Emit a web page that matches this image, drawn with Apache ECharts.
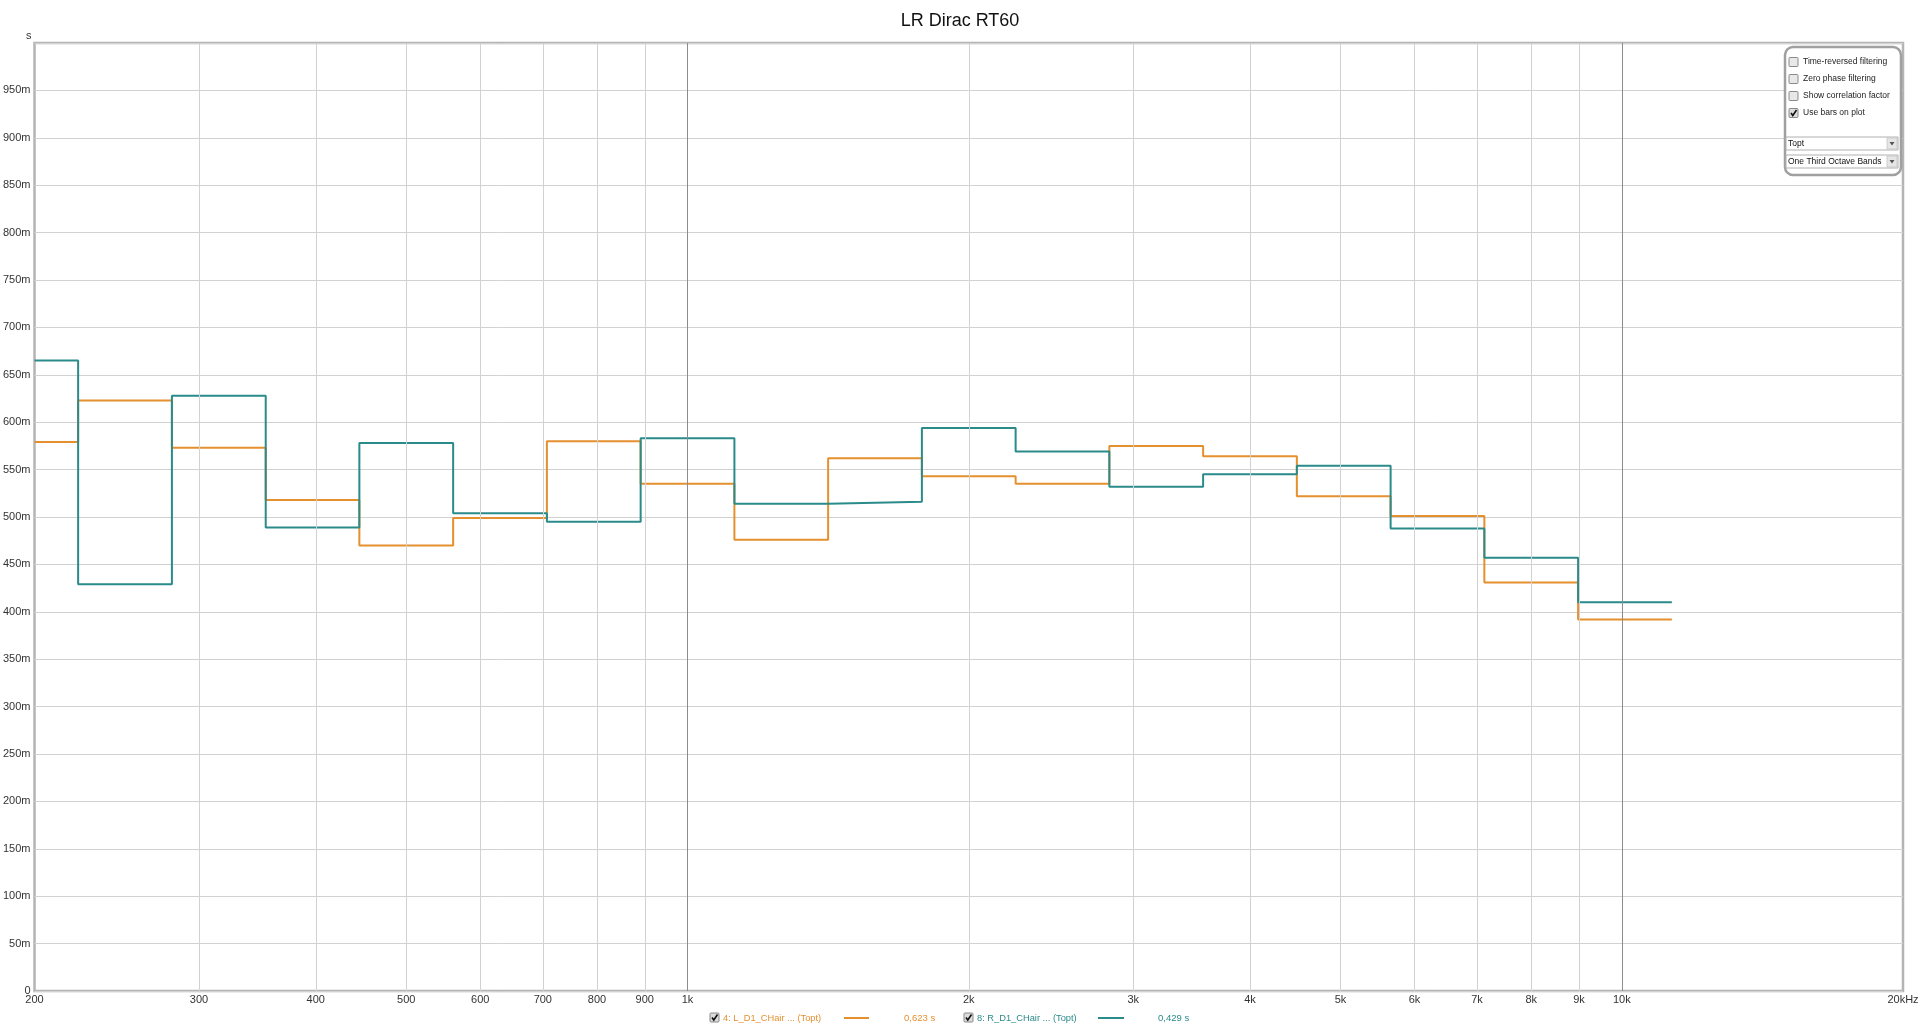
<!DOCTYPE html>
<html>
<head>
<meta charset="utf-8">
<script src="https://cdn.jsdelivr.net/npm/echarts@6/dist/echarts.min.js"></script>
<style>
html,body{margin:0;padding:0;background:#fff;}
#main{width:1920px;height:1029px;}
</style>
</head>
<body>
<div id="main"></div>
<script>
// One-third octave bands (nominal centres) and their band edges (Hz, base-2 bands)
const bandCenters = ['200','250','315','400','500','630','800','1k','1.25k','1.6k','2k','2.5k','3.15k','4k','5k','6.3k','8k','10k'];
const bandEdges = [200, 222.7, 280.6, 353.6, 445.4, 561.2, 707.1, 890.9, 1122.5, 1414.2, 1781.8, 2244.9, 2828.4, 3563.6, 4489.8, 5656.9, 7127.2, 8979.7, 11313.7];
// RT60 values in seconds (Topt)
const rt60L = [0.579, 0.623, 0.573, 0.518, 0.470, 0.499, 0.580, 0.535, 0.476, 0.562, 0.543, 0.535, 0.575, 0.564, 0.522, 0.501, 0.431, 0.392];
const rt60R = [0.665, 0.429, 0.628, 0.489, 0.578, 0.504, 0.495, 0.583, 0.514, 0.516, 0.594, 0.569, 0.532, 0.545, 0.554, 0.488, 0.457, 0.410];
// x-axis tick values and labels
const xTickValues = [200,300,400,500,600,700,800,900,1000,2000,3000,4000,5000,6000,7000,8000,9000,10000,20000];
const xTickLabels = ['200','300','400','500','600','700','800','900','1k','2k','3k','4k','5k','6k','7k','8k','9k','10k','20kHz'];
const xMajorValues = [1000, 10000];
const seriesNames = ['4: L_D1_CHair ... (Topt)', '8: R_D1_CHair ... (Topt)'];
const cursorValues = ['0,623 s', '0,429 s'];
const panelOptions = ['Time-reversed filtering','Zero phase filtering','Show correlation factor','Use bars on plot'];
const panelChecked = [false, false, false, true];
const dropdowns = ['Topt', 'One Third Octave Bands'];

const ORANGE = '#E5902F';
const TEAL = '#2B8A8A';
const FONT = 'Liberation Sans, Arial, sans-serif';

function stepData(vals) {
  const d = vals.map((v, i) => [bandEdges[i], v]);
  d.push([bandEdges[bandEdges.length - 1], vals[vals.length - 1]]);
  return d;
}

const chart = echarts.init(document.getElementById('main'));

const gridLines = xTickValues.filter(v => v > 200 && v < 20000).map(v => ({
  xAxis: v,
  lineStyle: { color: xMajorValues.includes(v) ? '#8c8c8c' : '#d2d2d2', width: 1, type: 'solid' }
}));

chart.setOption({
  animation: false,
  backgroundColor: '#fff',
  title: {
    text: 'LR Dirac RT60', left: 'center', top: 7,
    textStyle: { fontSize: 18, fontWeight: 'normal', color: '#111', fontFamily: FONT }
  },
  grid: {
    left: 33, right: 17, top: 43, bottom: 38,
    show: true, borderColor: '#b4b4b4', borderWidth: 2.5, backgroundColor: '#fff'
  },
  xAxis: {
    type: 'log', logBase: 10, min: 200, max: 20000,
    axisLine: { show: false }, axisTick: { show: false },
    axisLabel: { show: false }, splitLine: { show: false }, minorSplitLine: { show: false }
  },
  yAxis: {
    type: 'value', min: 0, max: 1, interval: 0.05,
    name: 's', nameLocation: 'end', nameGap: 2,
    nameTextStyle: { fontSize: 11, color: '#333', fontFamily: FONT, align: 'right', padding: [0, 3, 0, 0] },
    axisLine: { show: false }, axisTick: { show: false },
    axisLabel: {
      fontSize: 11, color: '#333', fontFamily: FONT, margin: 4,
      formatter: v => {
        if (v === 0) return '0';
        if (Math.abs(v - 1) < 1e-9) return '';
        return Math.round(v * 1000) + 'm';
      }
    },
    splitLine: { show: true, lineStyle: { color: '#d2d2d2', width: 1 } }
  },
  series: [
    {
      name: 'grid', type: 'line', data: [], z: 1, silent: true,
      markLine: { silent: true, symbol: ['none', 'none'], label: { show: false }, animation: false, data: gridLines }
    },
    {
      name: seriesNames[0], type: 'line', step: 'end', data: stepData(rt60L), showSymbol: false, symbol: 'none',
      lineStyle: { color: ORANGE, width: 2 }, itemStyle: { color: ORANGE }, z: 3
    },
    {
      name: seriesNames[1], type: 'line', step: 'end', data: stepData(rt60R), showSymbol: false, symbol: 'none',
      lineStyle: { color: TEAL, width: 2 }, itemStyle: { color: TEAL }, z: 4
    }
  ]
});

// Build graphics: x-axis labels (placed via axis scale), legend row, control panel
const g = [];
xTickValues.forEach((v, i) => {
  const p = chart.convertToPixel({ xAxisIndex: 0, yAxisIndex: 0 }, [v, 0]);
  g.push({
    type: 'text', x: p[0], y: p[1] + 3,
    style: { text: xTickLabels[i], font: '11px ' + FONT, fill: '#333', align: 'center', verticalAlign: 'top' }
  });
});

function checkbox(x, y, checked, size) {
  const s = size || 9;
  const items = [{
    type: 'rect', shape: { x: x, y: y, width: s, height: s, r: 1 },
    style: { fill: checked ? '#dcdcdc' : '#e8e8e8', stroke: '#8a8a8a', lineWidth: 1 }
  }];
  if (checked) {
    items.push({
      type: 'polyline', shape: { points: [[x + 2, y + s * 0.5], [x + s * 0.42, y + s - 2], [x + s - 1.5, y + 1.5]] },
      style: { stroke: '#111', lineWidth: 1.6, fill: null }
    });
  }
  return items;
}

// bottom legend
const legY = 1018;
const legendLayout = [
  { cb: 710, text: 723, line: [844, 869], val: 904, color: ORANGE },
  { cb: 964, text: 977, line: [1098, 1124], val: 1158, color: TEAL }
];
legendLayout.forEach((L, i) => {
  checkbox(L.cb, legY - 5, true, 9).forEach(it => g.push(it));
  g.push({ type: 'text', x: L.text, y: legY, style: { text: seriesNames[i], font: '9.3px ' + FONT, fill: L.color, verticalAlign: 'middle' } });
  g.push({ type: 'line', shape: { x1: L.line[0], y1: legY, x2: L.line[1], y2: legY }, style: { stroke: L.color, lineWidth: 2 } });
  g.push({ type: 'text', x: L.val, y: legY, style: { text: cursorValues[i], font: '9.5px ' + FONT, fill: L.color, verticalAlign: 'middle' } });
});

// control panel (top right)
g.push({
  type: 'rect', shape: { x: 1785, y: 47, width: 116, height: 128, r: 8 },
  style: { fill: '#fff', stroke: '#a0a0a0', lineWidth: 2.5 }, z: 10
});
const rowsY = [62, 79, 96, 113];
panelOptions.forEach((t, i) => {
  checkbox(1789, rowsY[i] - 4.5, panelChecked[i], 9).forEach(it => { it.z = 11; g.push(it); });
  g.push({ type: 'text', x: 1803, y: rowsY[i], z: 11, style: { text: t, font: '8.5px ' + FONT, fill: '#222', verticalAlign: 'middle' } });
});
const ddY = [137, 155];
dropdowns.forEach((t, i) => {
  g.push({ type: 'rect', z: 11, shape: { x: 1786, y: ddY[i], width: 112, height: 13 }, style: { fill: '#fff', stroke: '#b0b0b0', lineWidth: 1 } });
  g.push({ type: 'rect', z: 12, shape: { x: 1887, y: ddY[i] + 1, width: 10, height: 11 }, style: { fill: '#e6e6e6', stroke: '#c4c4c4', lineWidth: 0.8 } });
  g.push({ type: 'polygon', z: 13, shape: { points: [[1889.5, ddY[i] + 5], [1894.5, ddY[i] + 5], [1892, ddY[i] + 8.5]] }, style: { fill: '#555' } });
  g.push({ type: 'text', z: 12, x: 1788, y: ddY[i] + 6.5, style: { text: t, font: '8.5px ' + FONT, fill: '#111', verticalAlign: 'middle' } });
});

chart.setOption({ graphic: { elements: g } });
</script>
</body>
</html>
